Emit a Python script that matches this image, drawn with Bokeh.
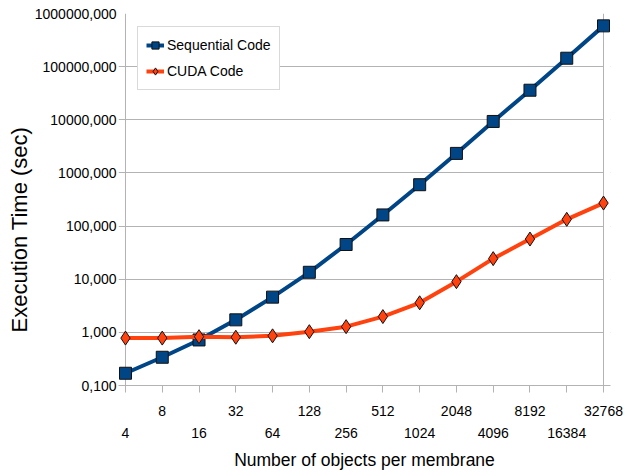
from bokeh.plotting import figure
from bokeh.models import (FixedTicker, CustomJSTickFormatter, LinearAxis, Legend,
                          LegendItem, Span, BoxAnnotation, Title, Range1d)
from bokeh.embed import file_html
from bokeh.resources import INLINE

# ---- data ----
categories = ["4", "8", "16", "32", "64", "128", "256", "512", "1024",
              "2048", "4096", "8192", "16384", "32768"]
sequential = [0.17, 0.34, 0.72, 1.72, 4.6, 13.5, 45, 162, 600,
              2330, 9300, 36000, 144000, 585000]
cuda = [0.78, 0.78, 0.83, 0.81, 0.86, 1.03, 1.28, 1.98, 3.6,
        9.0, 24.4, 57, 134, 271]
y_ticks = [0.1, 1, 10, 100, 1000, 10000, 100000, 1000000]
series_names = ["Sequential Code", "CUDA Code"]
x_title = "Number of objects per membrane"
y_title = "Execution Time (sec)"

# ---- style ----
FONT = "Liberation Sans"
GRID = "#b3b3b3"
BLUE = "#004586"
ORANGE = "#ff420e"
PAD = 0.19

x = list(range(len(categories)))
n = len(categories)

p = figure(width=626, height=475, y_axis_type="log",
           x_range=Range1d(-PAD, n - 1 + PAD),
           y_range=Range1d(y_ticks[0], y_ticks[-1]),
           output_backend="svg", toolbar_location=None,
           min_border_left=118, min_border_right=16,
           min_border_top=13, min_border_bottom=90)
p.outline_line_color = None
p.background_fill_color = "white"

# y axis
ya = p.yaxis[0]
ya.ticker = FixedTicker(ticks=y_ticks, minor_ticks=[])
ya.formatter = CustomJSTickFormatter(code="return tick.toFixed(3).replace('.', ',');")
ya.axis_line_color = None
ya.major_tick_line_color = None
ya.minor_tick_line_color = None
ya.major_tick_out = 0
ya.major_tick_in = 0
ya.minor_tick_out = 0
ya.minor_tick_in = 0
ya.major_label_standoff = 2
ya.major_label_text_font = FONT
ya.major_label_text_font_size = "14px"
ya.major_label_text_color = "black"

# grid
p.xgrid.visible = False
p.ygrid.grid_line_color = GRID
p.ygrid.grid_line_width = 1
p.ygrid.minor_grid_line_color = None

# x axis (top row of labels, with ticks)
xa1 = p.xaxis[0]
xa1.ticker = FixedTicker(ticks=x, minor_ticks=[])
xa1.major_label_overrides = {i: (categories[i] if i % 2 == 1 else "") for i in x}
xa1.axis_line_color = GRID
xa1.major_tick_line_color = GRID
xa1.major_tick_out = 7
xa1.major_tick_in = 0
xa1.minor_tick_line_color = None
xa1.minor_tick_out = 0
xa1.minor_tick_in = 0
xa1.major_label_standoff = 13
xa1.major_label_text_font = FONT
xa1.major_label_text_font_size = "14px"
xa1.major_label_text_color = "black"

# x axis (bottom row of labels) carrying the x title
xa2 = LinearAxis(ticker=FixedTicker(ticks=x, minor_ticks=[]),
                 major_label_overrides={i: (categories[i] if i % 2 == 0 else "") for i in x},
                 axis_line_color=None, major_tick_line_color=None,
                 minor_tick_line_color=None, major_tick_out=0, major_tick_in=0,
                 minor_tick_out=0, minor_tick_in=0, major_label_standoff=9,
                 major_label_text_font=FONT, major_label_text_font_size="14px",
                 major_label_text_color="black",
                 axis_label=x_title, axis_label_standoff=9,
                 axis_label_text_font=FONT, axis_label_text_font_size="17.5px",
                 axis_label_text_font_style="normal",
                 axis_label_text_color="black")
p.add_layout(xa2, "below")

# y title
p.add_layout(Title(text=y_title, align="left", offset=53, standoff=0,
                   text_font=FONT, text_font_size="22px",
                   text_font_style="normal", text_color="black"), "left")

# frame decorations
p.add_layout(BoxAnnotation(left=n - 1, fill_color="white", fill_alpha=1,
                           line_color=None, level="underlay"))
p.add_layout(Span(location=0, dimension="height", line_color=GRID,
                  line_width=1, level="underlay"))
p.add_layout(Span(location=n - 1, dimension="height", line_color=GRID,
                  line_width=1, level="underlay"))

# series
l1 = p.line(x, sequential, line_color=BLUE, line_width=4)
s1 = p.scatter(x, sequential, marker="square", size=12, fill_color=BLUE,
               line_color="#111111", line_width=1)
l2 = p.line(x, cuda, line_color=ORANGE, line_width=4)
s2 = p.scatter(x, cuda, marker="diamond", size=14, fill_color=ORANGE,
               line_color="#111111", line_width=1)

legend = Legend(items=[LegendItem(label=series_names[0], renderers=[l1, s1]),
                       LegendItem(label=series_names[1], renderers=[l2, s2])],
                location=(19, 295), margin=0, padding=8, spacing=6,
                glyph_width=18, glyph_height=20, label_standoff=3,
                label_text_font=FONT, label_text_font_size="14px",
                label_text_color="black",
                border_line_color=GRID, border_line_width=1,
                background_fill_color="white", background_fill_alpha=1)
p.add_layout(legend)

open("out.html", "w").write(file_html(p, INLINE))
